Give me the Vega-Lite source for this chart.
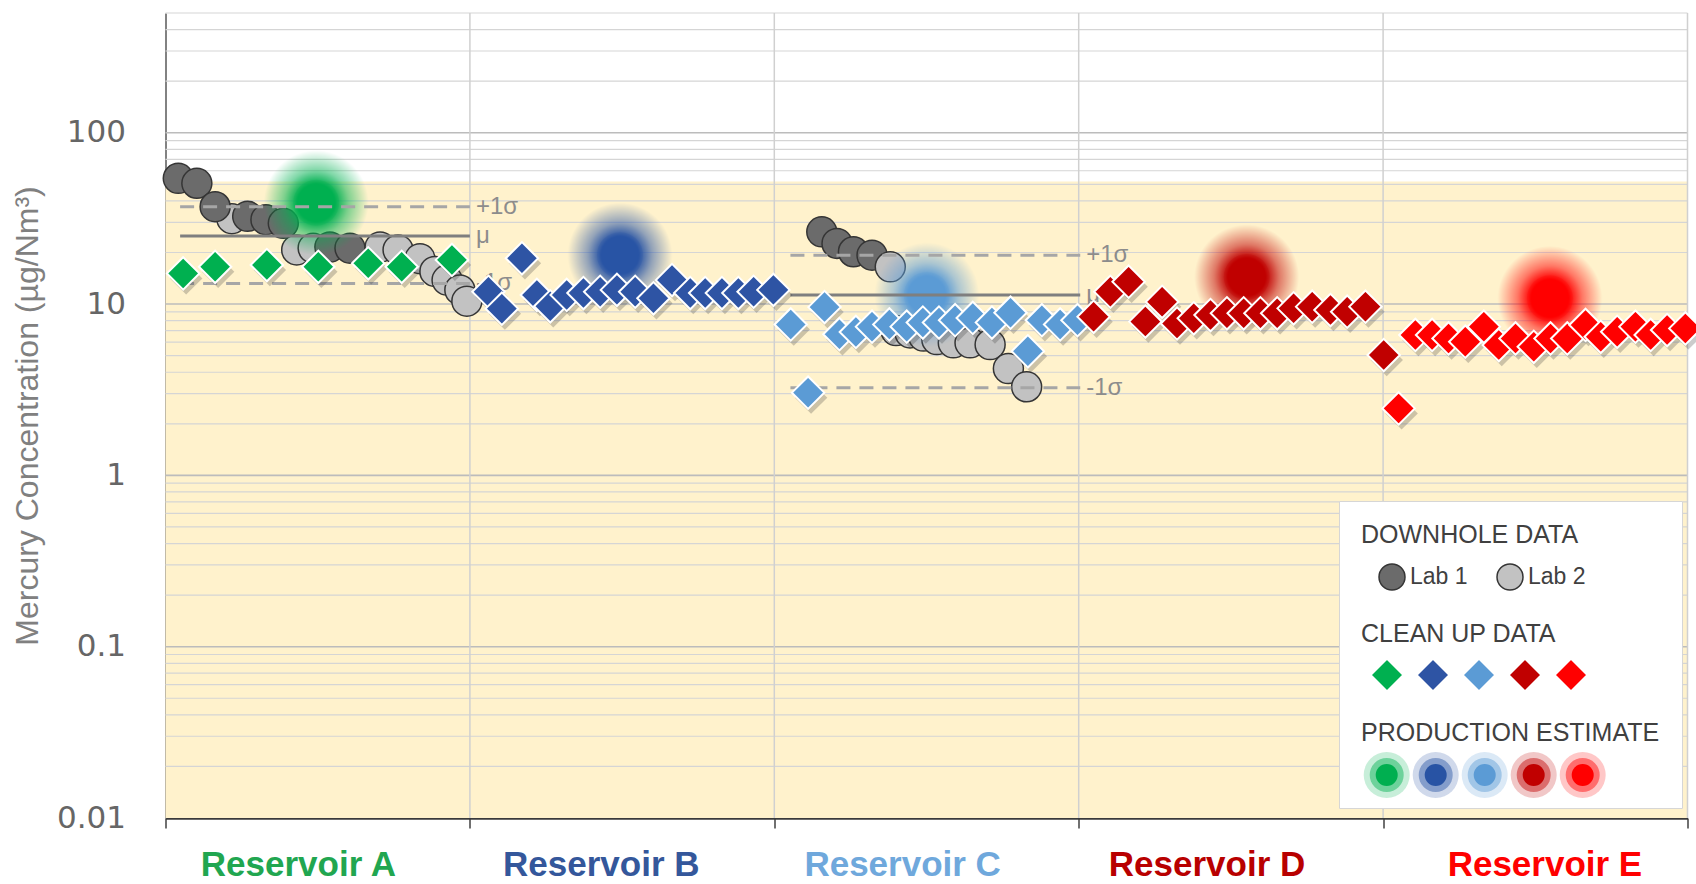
{
  "$schema": "https://vega.github.io/schema/vega-lite/v6.json",
  "width": 1522,
  "height": 805,
  "autosize": {"type": "none"},
  "padding": {"left": 165.5, "top": 13, "right": 8.5, "bottom": 66},
  "background": "#ffffff",
  "config": {"view": {"stroke": null}, "font": "Liberation Sans"},
  "datasets": {
    "zone": [{"lo": 0.01, "hi": 52}],
    "grid": [
      {"hg": 0.02}, {"hg": 0.03}, {"hg": 0.04}, {"hg": 0.05}, {"hg": 0.06}, {"hg": 0.07}, {"hg": 0.08}, {"hg": 0.09},
      {"hg": 0.1}, {"hg": 0.2}, {"hg": 0.3}, {"hg": 0.4}, {"hg": 0.5}, {"hg": 0.6}, {"hg": 0.7}, {"hg": 0.8}, {"hg": 0.9},
      {"hg": 1}, {"hg": 2}, {"hg": 3}, {"hg": 4}, {"hg": 5}, {"hg": 6}, {"hg": 7}, {"hg": 8}, {"hg": 9},
      {"hg": 10}, {"hg": 20}, {"hg": 30}, {"hg": 40}, {"hg": 50}, {"hg": 60}, {"hg": 70}, {"hg": 80}, {"hg": 90},
      {"hg": 100}, {"hg": 200}, {"hg": 300}, {"hg": 400}, {"hg": 500}
    ],
    "bounds": [{"pos": 1}, {"pos": 2}, {"pos": 3}, {"pos": 4}, {"pos": 5}],
    "downhole": [
      {"reservoir": "Reservoir A", "lab": "Lab 1", "pos": 0.042, "hg": 54.2},
      {"reservoir": "Reservoir A", "lab": "Lab 1", "pos": 0.103, "hg": 50.7},
      {"reservoir": "Reservoir A", "lab": "Lab 2", "pos": 0.218, "hg": 31.5},
      {"reservoir": "Reservoir A", "lab": "Lab 1", "pos": 0.163, "hg": 37},
      {"reservoir": "Reservoir A", "lab": "Lab 1", "pos": 0.27, "hg": 32.5},
      {"reservoir": "Reservoir A", "lab": "Lab 1", "pos": 0.33, "hg": 31.1},
      {"reservoir": "Reservoir A", "lab": "Lab 1", "pos": 0.387, "hg": 29.6},
      {"reservoir": "Reservoir A", "lab": "Lab 2", "pos": 0.431, "hg": 20.7},
      {"reservoir": "Reservoir A", "lab": "Lab 2", "pos": 0.485, "hg": 21.2},
      {"reservoir": "Reservoir A", "lab": "Lab 1", "pos": 0.54, "hg": 21.5},
      {"reservoir": "Reservoir A", "lab": "Lab 1", "pos": 0.606, "hg": 21.2},
      {"reservoir": "Reservoir A", "lab": "Lab 2", "pos": 0.705, "hg": 21.5},
      {"reservoir": "Reservoir A", "lab": "Lab 2", "pos": 0.764, "hg": 20.7},
      {"reservoir": "Reservoir A", "lab": "Lab 2", "pos": 0.836, "hg": 18.4},
      {"reservoir": "Reservoir A", "lab": "Lab 2", "pos": 0.885, "hg": 15.5},
      {"reservoir": "Reservoir A", "lab": "Lab 2", "pos": 0.925, "hg": 13.8},
      {"reservoir": "Reservoir A", "lab": "Lab 2", "pos": 0.967, "hg": 12.1},
      {"reservoir": "Reservoir A", "lab": "Lab 2", "pos": 0.99, "hg": 10.4},
      {"reservoir": "Reservoir C", "lab": "Lab 1", "pos": 2.156, "hg": 26.4},
      {"reservoir": "Reservoir C", "lab": "Lab 1", "pos": 2.206, "hg": 22.6},
      {"reservoir": "Reservoir C", "lab": "Lab 1", "pos": 2.26, "hg": 20.2},
      {"reservoir": "Reservoir C", "lab": "Lab 1", "pos": 2.321, "hg": 19.3},
      {"reservoir": "Reservoir C", "lab": "Lab 2", "pos": 2.381, "hg": 16.5},
      {"reservoir": "Reservoir C", "lab": "Lab 2", "pos": 2.4, "hg": 7.0},
      {"reservoir": "Reservoir C", "lab": "Lab 2", "pos": 2.446, "hg": 6.78},
      {"reservoir": "Reservoir C", "lab": "Lab 2", "pos": 2.49, "hg": 6.5},
      {"reservoir": "Reservoir C", "lab": "Lab 2", "pos": 2.534, "hg": 6.2},
      {"reservoir": "Reservoir C", "lab": "Lab 2", "pos": 2.588, "hg": 5.94},
      {"reservoir": "Reservoir C", "lab": "Lab 2", "pos": 2.643, "hg": 5.94},
      {"reservoir": "Reservoir C", "lab": "Lab 2", "pos": 2.709, "hg": 5.8},
      {"reservoir": "Reservoir C", "lab": "Lab 2", "pos": 2.769, "hg": 4.2},
      {"reservoir": "Reservoir C", "lab": "Lab 2", "pos": 2.829, "hg": 3.29}
    ],
    "cleanup": [
      {"reservoir": "Reservoir A", "pos": 0.058, "hg": 15.1},
      {"reservoir": "Reservoir A", "pos": 0.163, "hg": 16.5},
      {"reservoir": "Reservoir A", "pos": 0.333, "hg": 16.9},
      {"reservoir": "Reservoir A", "pos": 0.502, "hg": 16.5},
      {"reservoir": "Reservoir A", "pos": 0.666, "hg": 17.3},
      {"reservoir": "Reservoir A", "pos": 0.776, "hg": 16.5},
      {"reservoir": "Reservoir A", "pos": 0.941, "hg": 18.1},
      {"reservoir": "Reservoir B", "pos": 1.061, "hg": 11.8},
      {"reservoir": "Reservoir B", "pos": 1.105, "hg": 9.4},
      {"reservoir": "Reservoir B", "pos": 1.171, "hg": 18.5},
      {"reservoir": "Reservoir B", "pos": 1.22, "hg": 11.3},
      {"reservoir": "Reservoir B", "pos": 1.264, "hg": 9.7},
      {"reservoir": "Reservoir B", "pos": 1.318, "hg": 11.3},
      {"reservoir": "Reservoir B", "pos": 1.373, "hg": 11.6},
      {"reservoir": "Reservoir B", "pos": 1.428, "hg": 11.8},
      {"reservoir": "Reservoir B", "pos": 1.483, "hg": 12.1},
      {"reservoir": "Reservoir B", "pos": 1.543, "hg": 11.8},
      {"reservoir": "Reservoir B", "pos": 1.603, "hg": 10.8},
      {"reservoir": "Reservoir B", "pos": 1.664, "hg": 13.8},
      {"reservoir": "Reservoir B", "pos": 1.724, "hg": 11.6},
      {"reservoir": "Reservoir B", "pos": 1.773, "hg": 11.6},
      {"reservoir": "Reservoir B", "pos": 1.828, "hg": 11.6},
      {"reservoir": "Reservoir B", "pos": 1.882, "hg": 11.6},
      {"reservoir": "Reservoir B", "pos": 1.932, "hg": 11.8},
      {"reservoir": "Reservoir B", "pos": 1.997, "hg": 12.1},
      {"reservoir": "Reservoir C", "pos": 2.054, "hg": 7.6},
      {"reservoir": "Reservoir C", "pos": 2.111, "hg": 3.04},
      {"reservoir": "Reservoir C", "pos": 2.165, "hg": 9.6},
      {"reservoir": "Reservoir C", "pos": 2.214, "hg": 6.67},
      {"reservoir": "Reservoir C", "pos": 2.268, "hg": 6.87},
      {"reservoir": "Reservoir C", "pos": 2.321, "hg": 7.38},
      {"reservoir": "Reservoir C", "pos": 2.378, "hg": 7.6},
      {"reservoir": "Reservoir C", "pos": 2.435, "hg": 7.38},
      {"reservoir": "Reservoir C", "pos": 2.488, "hg": 7.8},
      {"reservoir": "Reservoir C", "pos": 2.541, "hg": 7.8},
      {"reservoir": "Reservoir C", "pos": 2.594, "hg": 8.05},
      {"reservoir": "Reservoir C", "pos": 2.652, "hg": 8.3},
      {"reservoir": "Reservoir C", "pos": 2.715, "hg": 7.8},
      {"reservoir": "Reservoir C", "pos": 2.776, "hg": 8.9},
      {"reservoir": "Reservoir C", "pos": 2.833, "hg": 5.3},
      {"reservoir": "Reservoir C", "pos": 2.879, "hg": 8.05},
      {"reservoir": "Reservoir C", "pos": 2.939, "hg": 7.6},
      {"reservoir": "Reservoir C", "pos": 2.996, "hg": 8.05},
      {"reservoir": "Reservoir D", "pos": 3.049, "hg": 8.43},
      {"reservoir": "Reservoir D", "pos": 3.104, "hg": 11.8},
      {"reservoir": "Reservoir D", "pos": 3.164, "hg": 13.5},
      {"reservoir": "Reservoir D", "pos": 3.219, "hg": 7.9},
      {"reservoir": "Reservoir D", "pos": 3.274, "hg": 10.3},
      {"reservoir": "Reservoir D", "pos": 3.323, "hg": 7.7},
      {"reservoir": "Reservoir D", "pos": 3.378, "hg": 8.26},
      {"reservoir": "Reservoir D", "pos": 3.433, "hg": 8.63},
      {"reservoir": "Reservoir D", "pos": 3.487, "hg": 8.83},
      {"reservoir": "Reservoir D", "pos": 3.542, "hg": 8.83},
      {"reservoir": "Reservoir D", "pos": 3.597, "hg": 8.83},
      {"reservoir": "Reservoir D", "pos": 3.652, "hg": 8.83},
      {"reservoir": "Reservoir D", "pos": 3.706, "hg": 9.44},
      {"reservoir": "Reservoir D", "pos": 3.767, "hg": 9.66},
      {"reservoir": "Reservoir D", "pos": 3.827, "hg": 9.23},
      {"reservoir": "Reservoir D", "pos": 3.882, "hg": 9.02},
      {"reservoir": "Reservoir D", "pos": 3.942, "hg": 9.66},
      {"reservoir": "Reservoir D", "pos": 4.002, "hg": 5.04},
      {"reservoir": "Reservoir E", "pos": 4.051, "hg": 2.46},
      {"reservoir": "Reservoir E", "pos": 4.106, "hg": 6.6},
      {"reservoir": "Reservoir E", "pos": 4.161, "hg": 6.6},
      {"reservoir": "Reservoir E", "pos": 4.215, "hg": 6.3},
      {"reservoir": "Reservoir E", "pos": 4.27, "hg": 6.03},
      {"reservoir": "Reservoir E", "pos": 4.331, "hg": 7.38},
      {"reservoir": "Reservoir E", "pos": 4.38, "hg": 5.76},
      {"reservoir": "Reservoir E", "pos": 4.435, "hg": 6.3},
      {"reservoir": "Reservoir E", "pos": 4.495, "hg": 5.63},
      {"reservoir": "Reservoir E", "pos": 4.55, "hg": 6.3},
      {"reservoir": "Reservoir E", "pos": 4.605, "hg": 6.3},
      {"reservoir": "Reservoir E", "pos": 4.665, "hg": 7.55},
      {"reservoir": "Reservoir E", "pos": 4.715, "hg": 6.44},
      {"reservoir": "Reservoir E", "pos": 4.769, "hg": 6.89},
      {"reservoir": "Reservoir E", "pos": 4.829, "hg": 7.38},
      {"reservoir": "Reservoir E", "pos": 4.879, "hg": 6.6},
      {"reservoir": "Reservoir E", "pos": 4.933, "hg": 7.05},
      {"reservoir": "Reservoir E", "pos": 4.993, "hg": 7.21}
    ],
    "estimate": [
      {"reservoir": "Reservoir A", "pos": 0.495, "hg": 39},
      {"reservoir": "Reservoir B", "pos": 1.493, "hg": 19.3},
      {"reservoir": "Reservoir C", "pos": 2.501, "hg": 11.3},
      {"reservoir": "Reservoir D", "pos": 3.552, "hg": 14.4},
      {"reservoir": "Reservoir E", "pos": 4.548, "hg": 10.8}
    ],
    "stats": [
      {"reservoir": "Reservoir A", "stat": "+1σ", "pos": 0.048, "pos2": 1.0, "hg": 37},
      {"reservoir": "Reservoir A", "stat": "μ", "pos": 0.048, "pos2": 1.0, "hg": 25},
      {"reservoir": "Reservoir A", "stat": "-1σ", "pos": 0.048, "pos2": 1.0, "hg": 13.2},
      {"reservoir": "Reservoir C", "stat": "+1σ", "pos": 2.053, "pos2": 3.005, "hg": 19.3},
      {"reservoir": "Reservoir C", "stat": "μ", "pos": 2.053, "pos2": 3.005, "hg": 11.3},
      {"reservoir": "Reservoir C", "stat": "-1σ", "pos": 2.053, "pos2": 3.005, "hg": 3.25}
    ]
  },
  "layer": [
    {
      "data": {"name": "zone"},
      "mark": {"type": "rect", "color": "#fff2cc"},
      "encoding": {
        "y": {"field": "lo", "type": "quantitative", "scale": {"type": "log", "domain": [0.01, 500], "nice": false}},
        "y2": {"field": "hi"}
      }
    },
    {
      "data": {"name": "grid"},
      "mark": {"type": "rule"},
      "encoding": {
        "y": {"field": "hg", "type": "quantitative", "scale": {"type": "log", "domain": [0.01, 500], "nice": false}},
        "stroke": {"condition": {"test": "abs(log(datum.hg)/LN10 - round(log(datum.hg)/LN10)) < 0.0001", "value": "#bcbcbc"}, "value": "#d5d5d5"},
        "strokeWidth": {"condition": {"test": "abs(log(datum.hg)/LN10 - round(log(datum.hg)/LN10)) < 0.0001", "value": 1.6}, "value": 1.2}
      }
    },
    {
      "data": {"name": "bounds"},
      "mark": {"type": "rule", "color": "#d0d0d0", "strokeWidth": 1.5},
      "encoding": {
        "x": {"field": "pos", "type": "quantitative", "scale": {"domain": [0, 5], "nice": false, "zero": false}}
      }
    },
    {
      "data": {"name": "estimate"},
      "mark": {"type": "circle", "size": 484, "opacity": 1},
      "encoding": {
        "x": {"field": "pos", "type": "quantitative", "scale": {"domain": [0, 5], "nice": false, "zero": false}},
        "y": {"field": "hg", "type": "quantitative", "scale": {"type": "log", "domain": [0.01, 500], "nice": false}},
        "fill": {
          "field": "reservoir", "type": "nominal",
          "scale": {"domain": ["Reservoir A", "Reservoir B", "Reservoir C", "Reservoir D", "Reservoir E"], "range": ["#00b050", "#2854a5", "#5b9bd5", "#c00000", "#ff0000"]},
          "legend": {
            "title": ["DOWNHOLE DATA", "\u2800", "\u2800", "CLEAN UP DATA", "\u2800", "\u2800", "PRODUCTION ESTIMATE"],
            "titleLineHeight": 33,
            "orient": "none", "legendX": 1173.5, "legendY": 488, "direction": "horizontal",
            "padding": 22, "fillColor": "#ffffff", "strokeColor": "#d6d6d6",
            "titleFont": "Liberation Sans", "titleFontSize": 25, "titleFontWeight": "normal", "titleColor": "#404040", "titleLimit": 600, "titlePadding": 18,
            "labelExpr": "''", "labelOffset": 0,
            "symbolType": "circle", "symbolSize": 484, "symbolStrokeWidth": 0, "symbolOffset": 14.7,
            "columnPadding": 12
          }
        }
      }
    },
    {
      "data": {"name": "estimate"},
      "mark": {"type": "circle", "size": 1156, "opacity": 0.45},
      "encoding": {
        "x": {"field": "pos", "type": "quantitative", "scale": {"domain": [0, 5], "nice": false, "zero": false}},
        "y": {"field": "hg", "type": "quantitative", "scale": {"type": "log", "domain": [0.01, 500], "nice": false}},
        "fill": {
          "field": "reservoir", "type": "nominal",
          "scale": {"domain": ["Reservoir A", "Reservoir B", "Reservoir C", "Reservoir D", "Reservoir E"], "range": ["#00b050", "#2854a5", "#5b9bd5", "#c00000", "#ff0000"]},
          "legend": {
            "title": null,
            "orient": "none", "legendX": 1195.5, "legendY": 745, "direction": "horizontal",
            "padding": 0,
            "labelExpr": "''", "labelOffset": 0,
            "symbolType": "circle", "symbolSize": 1156, "symbolStrokeWidth": 0, "symbolOffset": 8.7,
            "columnPadding": 6
          }
        }
      }
    },
    {
      "data": {"name": "estimate"},
      "mark": {"type": "circle", "size": 2116, "opacity": 0.22},
      "encoding": {
        "x": {"field": "pos", "type": "quantitative", "scale": {"domain": [0, 5], "nice": false, "zero": false}},
        "y": {"field": "hg", "type": "quantitative", "scale": {"type": "log", "domain": [0.01, 500], "nice": false}},
        "fill": {
          "field": "reservoir", "type": "nominal",
          "scale": {"domain": ["Reservoir A", "Reservoir B", "Reservoir C", "Reservoir D", "Reservoir E"], "range": ["#00b050", "#2854a5", "#5b9bd5", "#c00000", "#ff0000"]},
          "legend": {
            "title": null,
            "orient": "none", "legendX": 1195.5, "legendY": 739, "direction": "horizontal",
            "padding": 0,
            "labelExpr": "''", "labelOffset": 0,
            "symbolType": "circle", "symbolSize": 2116, "symbolStrokeWidth": 0, "symbolOffset": 2.7,
            "columnPadding": 0
          }
        }
      }
    },
    {
      "data": {"name": "downhole"},
      "mark": {"type": "circle", "size": 900, "opacity": 1, "stroke": "#353535", "strokeWidth": 1.5},
      "encoding": {
        "x": {"field": "pos", "type": "quantitative", "scale": {"domain": [0, 5], "nice": false, "zero": false}},
        "y": {"field": "hg", "type": "quantitative", "scale": {"type": "log", "domain": [0.01, 500], "nice": false}},
        "fill": {
          "field": "lab", "type": "nominal",
          "scale": {"domain": ["Lab 1", "Lab 2"], "range": ["#6b6b6b", "#c2c2c2"]},
          "legend": {
            "title": null,
            "orient": "none", "legendX": 1195.5, "legendY": 550, "direction": "horizontal",
            "padding": 0,
            "labelFont": "Liberation Sans", "labelFontSize": 23, "labelColor": "#404040", "labelOffset": 4,
            "symbolType": "circle", "symbolSize": 676, "symbolStrokeColor": "#353535", "symbolStrokeWidth": 1.5, "symbolOffset": 17,
            "columnPadding": 11
          }
        }
      }
    },
    {
      "data": {"name": "estimate"},
      "mark": {"type": "circle", "size": 11000, "opacity": 1},
      "encoding": {
        "x": {"field": "pos", "type": "quantitative", "scale": {"domain": [0, 5], "nice": false, "zero": false}},
        "y": {"field": "hg", "type": "quantitative", "scale": {"type": "log", "domain": [0.01, 500], "nice": false}},
        "fill": {"value": {"expr": "{gradient: 'radial', x1: 0.5, y1: 0.5, r1: 0, x2: 0.5, y2: 0.5, r2: 0.5, stops: [{offset: 0, color: 'rgba(' + (datum.reservoir == 'Reservoir A' ? '0,176,80' : datum.reservoir == 'Reservoir B' ? '40,84,165' : datum.reservoir == 'Reservoir C' ? '91,155,213' : datum.reservoir == 'Reservoir D' ? '192,0,0' : '255,0,0') + ',1)'}, {offset: 0.36, color: 'rgba(' + (datum.reservoir == 'Reservoir A' ? '0,176,80' : datum.reservoir == 'Reservoir B' ? '40,84,165' : datum.reservoir == 'Reservoir C' ? '91,155,213' : datum.reservoir == 'Reservoir D' ? '192,0,0' : '255,0,0') + ',1)'}, {offset: 0.62, color: 'rgba(' + (datum.reservoir == 'Reservoir A' ? '0,176,80' : datum.reservoir == 'Reservoir B' ? '40,84,165' : datum.reservoir == 'Reservoir C' ? '91,155,213' : datum.reservoir == 'Reservoir D' ? '192,0,0' : '255,0,0') + ',0.5)'}, {offset: 1, color: 'rgba(' + (datum.reservoir == 'Reservoir A' ? '0,176,80' : datum.reservoir == 'Reservoir B' ? '40,84,165' : datum.reservoir == 'Reservoir C' ? '91,155,213' : datum.reservoir == 'Reservoir D' ? '192,0,0' : '255,0,0') + ',0)'}]}"}}
      }
    },
    {
      "data": {"name": "stats"},
      "mark": {"type": "rule", "strokeWidth": 3},
      "encoding": {
        "x": {"field": "pos", "type": "quantitative", "scale": {"domain": [0, 5], "nice": false, "zero": false}},
        "x2": {"field": "pos2"},
        "y": {"field": "hg", "type": "quantitative", "scale": {"type": "log", "domain": [0.01, 500], "nice": false}},
        "stroke": {"condition": {"test": "datum.stat == 'μ'", "value": "#7f7f7f"}, "value": "#a6a6a6"},
        "strokeDash": {"condition": {"test": "datum.stat == 'μ'", "value": [1, 0]}, "value": [14, 9]}
      }
    },
    {
      "data": {"name": "stats"},
      "mark": {"type": "text", "align": "left", "baseline": "middle", "dx": 6, "fontSize": 24, "font": "Liberation Sans", "color": "#8c8c8c"},
      "encoding": {
        "x": {"field": "pos2", "type": "quantitative", "scale": {"domain": [0, 5], "nice": false, "zero": false}},
        "y": {"field": "hg", "type": "quantitative", "scale": {"type": "log", "domain": [0.01, 500], "nice": false}},
        "text": {"field": "stat"}
      }
    },
    {
      "data": {"name": "cleanup"},
      "mark": {"type": "point", "shape": "diamond", "filled": true, "size": 1050, "color": "#333333", "opacity": 0.25, "strokeWidth": 0, "xOffset": 3, "yOffset": 5},
      "encoding": {
        "x": {"field": "pos", "type": "quantitative", "scale": {"domain": [0, 5], "nice": false, "zero": false}},
        "y": {"field": "hg", "type": "quantitative", "scale": {"type": "log", "domain": [0.01, 500], "nice": false}}
      }
    },
    {
      "data": {"name": "cleanup"},
      "mark": {"type": "point", "shape": "diamond", "filled": true, "size": 1050, "opacity": 1, "stroke": "#ffffff", "strokeWidth": 2},
      "encoding": {
        "x": {
          "field": "pos", "type": "quantitative", "scale": {"domain": [0, 5], "nice": false, "zero": false},
          "axis": {
            "title": null,
            "values": [0, 0.435, 1, 1.43, 2, 2.42, 3, 3.42, 4, 4.53, 5],
            "labelExpr": "datum.value == 0.435 ? 'Reservoir A' : datum.value == 1.43 ? 'Reservoir B' : datum.value == 2.42 ? 'Reservoir C' : datum.value == 3.42 ? 'Reservoir D' : datum.value == 4.53 ? 'Reservoir E' : ''",
            "labelFont": "Liberation Sans", "labelFontSize": 35, "labelFontWeight": "bold", "labelLimit": 600,
            "labelColor": {"condition": [{"test": "datum.value < 1", "value": "#21a650"}, {"test": "datum.value < 2", "value": "#34579b"}, {"test": "datum.value < 3", "value": "#6fa8dc"}, {"test": "datum.value < 4", "value": "#b80000"}], "value": "#ff0000"},
            "tickOpacity": {"condition": {"test": "datum.value % 1 != 0", "value": 0}, "value": 1},
            "tickSize": 10, "tickColor": "#404040", "tickWidth": 1.5,
            "domainColor": "#3a3a3a", "domainWidth": 2.5,
            "labelPadding": 19, "grid": false, "labelFlush": false, "labelOverlap": false, "labelBound": false
          }
        },
        "y": {
          "field": "hg", "type": "quantitative", "scale": {"type": "log", "domain": [0.01, 500], "nice": false},
          "axis": {
            "title": "Mercury Concentration (µg/Nm³)",
            "values": [0.01, 0.1, 1, 10, 100],
            "labelExpr": "datum.value >= 1 ? format(datum.value, 'd') : format(datum.value, '.2~f')",
            "labelFont": "DejaVu Sans", "labelFontSize": 31, "labelColor": "#666666", "labelPadding": 40,
            "ticks": false, "grid": false,
            "domainColor": "#595959", "domainWidth": 1.5,
            "titleFont": "Liberation Sans", "titleFontSize": 32, "titleFontWeight": "normal", "titleColor": "#808080", "titlePadding": 12,
            "labelFlush": false, "labelOverlap": false, "labelBound": false
          }
        },
        "fill": {
          "field": "reservoir", "type": "nominal",
          "scale": {"domain": ["Reservoir A", "Reservoir B", "Reservoir C", "Reservoir D", "Reservoir E"], "range": ["#00b050", "#2e54a4", "#5b9bd5", "#c00000", "#ff0000"]},
          "legend": {
            "title": null,
            "orient": "none", "legendX": 1195.5, "legendY": 645, "direction": "horizontal",
            "padding": 0,
            "labelExpr": "''", "labelOffset": 0,
            "symbolType": "diamond", "symbolSize": 1024, "symbolStrokeColor": "#ffffff", "symbolStrokeWidth": 1.5, "symbolOffset": 9,
            "columnPadding": 1
          }
        }
      }
    }
  ],
  "resolve": {"scale": {"fill": "independent"}}
}
